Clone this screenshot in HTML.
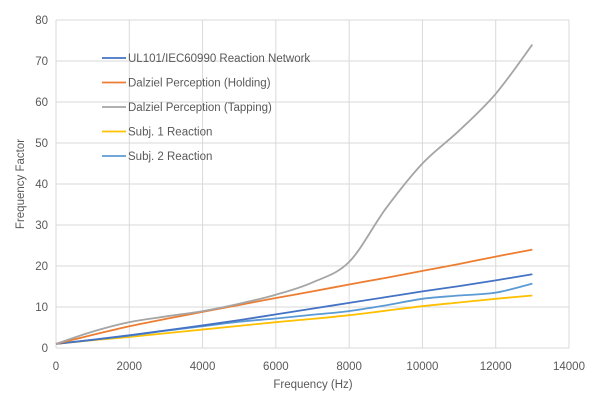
<!DOCTYPE html>
<html><head><meta charset="utf-8"><style>
body{margin:0;background:#fff;}
svg{display:block;font-family:"Liberation Sans",sans-serif;}
</style></head><body>
<svg id="chart" width="600" height="403"></svg>
<script>
const xTicks=[0,2000,4000,6000,8000,10000,12000,14000];
const yTicks=[0,10,20,30,40,50,60,70,80];
const freqs=[0,1000,2000,3000,4000,5000,6000,7000,8000,9000,10000,11000,12000,13000];
const ulValues=[1,2,3.1,4.3,5.5,6.8,8.2,9.6,11,12.4,13.8,15.1,16.5,18];
const holdingValues=[1,3.2,5.3,7.1,8.8,10.5,12.2,13.8,15.5,17.1,18.8,20.5,22.3,24];
const tappingValues=[1,4,6.3,7.7,9,10.8,13,16,21,34,45,53,62,74];
const subj1Values=[1,1.9,2.7,3.6,4.5,5.4,6.3,7.1,8,9.1,10.2,11.1,12,12.8];
const subj2Values=[1,2,3,4.2,5.3,6.4,7.2,8.1,9,10.4,12,12.8,13.5,15.7];
const seriesNames=["UL101/IEC60990 Reaction Network","Dalziel Perception (Holding)","Dalziel Perception (Tapping)","Subj. 1 Reaction","Subj. 2 Reaction"];
const seriesColors=["#4472c4","#ed7d31","#a5a5a5","#ffc000","#5b9bd5"];
const seriesData=[ulValues,holdingValues,tappingValues,subj1Values,subj2Values];
const svg=document.getElementById('chart');
const NS='http://www.w3.org/2000/svg';
const X0=56,X1=569,Y0=348,Y1=20;
const xs=v=>X0+(v-0)/14000*(X1-X0);
const ys=v=>Y0-(v/80)*(Y0-Y1);
function mk(t,a){const e=document.createElementNS(NS,t);for(const k in a)e.setAttribute(k,a[k]);svg.appendChild(e);return e;}
yTicks.forEach(t=>{
  const g=mk('line',{x1:X0,x2:X1,y1:ys(t),y2:ys(t),stroke:'#d9d9d9','stroke-width':1});
  
  
  const l=mk('text',{x:X0-8,y:ys(t)+4,'text-anchor':'end','font-size':11.5,fill:'#595959'});l.textContent=t;
  
  
});
xTicks.forEach(t=>{
  const g=mk('line',{x1:xs(t),x2:xs(t),y1:Y1,y2:Y0,stroke:'#d9d9d9','stroke-width':1});
  
  
  const l=mk('text',{x:xs(t),y:370,'text-anchor':'middle','font-size':11.5,fill:'#595959'});l.textContent=t;
  
  
});
function pathFor(vals){
  const p=freqs.map((f,i)=>[xs(f),ys(vals[i])]);
  let d='M'+p[0][0]+','+p[0][1];
  for(let i=0;i<p.length-1;i++){
    const p0=p[Math.max(0,i-1)],p1=p[i],p2=p[i+1],p3=p[Math.min(p.length-1,i+2)];
    const c1=[p1[0]+(p2[0]-p0[0])/6,p1[1]+(p2[1]-p0[1])/6];
    const c2=[p2[0]-(p3[0]-p1[0])/6,p2[1]-(p3[1]-p1[1])/6];
    d+=' C'+c1+' '+c2+' '+p2;
  }
  return d;
}
[3,4,0,1,2].forEach(i=>{
  const e=mk('path',{d:pathFor(seriesData[i]),fill:'none',stroke:seriesColors[i],'stroke-width':1.8});
  
  
});
seriesNames.forEach((n,i)=>{
  const y=58+i*24.5;
  const l=mk('line',{x1:102,x2:126,y1:y,y2:y,stroke:seriesColors[i],'stroke-width':1.8});
  
  
  const t=mk('text',{x:128,y:y+4,'font-size':11.5,fill:'#595959'});t.textContent=n;
  
  
});
const xt=mk('text',{x:313,y:388,'text-anchor':'middle','font-size':11.5,fill:'#595959'});xt.textContent='Frequency (Hz)';


const yt=mk('text',{x:0,y:0,'text-anchor':'middle','font-size':11.5,fill:'#595959',transform:'translate(24,184) rotate(-90)'});yt.textContent='Frequency Factor';


</script>
</body></html>
